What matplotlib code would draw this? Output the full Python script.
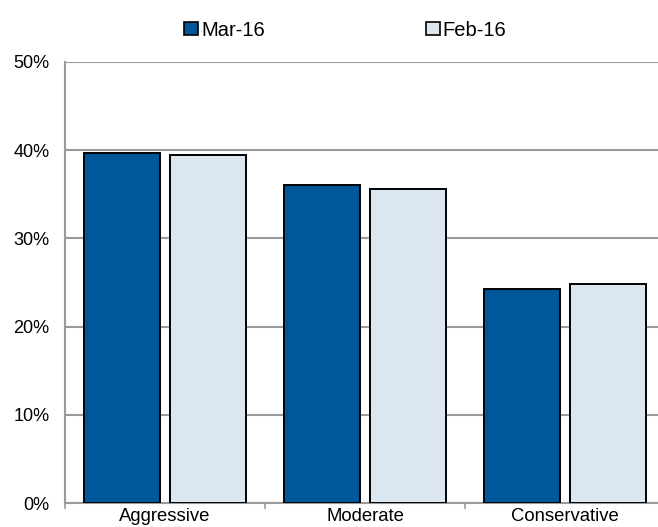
import matplotlib
matplotlib.use("Agg")
import matplotlib.pyplot as plt
from matplotlib.patches import Patch
import numpy as np

plt.rcParams['font.family'] = ['Liberation Sans', 'DejaVu Sans']

categories = ["Aggressive", "Moderate", "Conservative"]
mar16 = [0.397, 0.361, 0.243]
feb16 = [0.395, 0.356, 0.248]
series_labels = ["Mar-16", "Feb-16"]
ytick_vals = [0, 0.1, 0.2, 0.3, 0.4, 0.5]
ytick_labels = ["0%", "10%", "20%", "30%", "40%", "50%"]

dark_blue = "#00589A"
light_blue = "#DCE6F1"
grid_gray = "#9A9A9A"

fig = plt.figure(figsize=(6.58, 5.27), dpi=100)
ax = fig.add_axes([65 / 658, 24 / 527, 600 / 658, 441 / 527])

x = np.arange(len(categories))
width = 0.38
ax.bar(x - 0.215, mar16, width, color=dark_blue, edgecolor="black", linewidth=1.4, zorder=3)
ax.bar(x + 0.215, feb16, width, color=light_blue, edgecolor="black", linewidth=1.4, zorder=3)

ax.set_xlim(-0.5, len(categories) - 0.5)
ax.set_ylim(0, 0.5)
ax.set_yticks(ytick_vals)
ax.set_yticklabels(ytick_labels, fontsize=13)
ax.tick_params(axis="y", length=0, pad=11)

ax.set_xticks(x)
ax.set_xticklabels(categories, fontsize=13.3)
ax.tick_params(axis="x", which="major", length=0, pad=3.5)
ax.set_xticks(np.arange(len(categories) + 1) - 0.5, minor=True)
ax.tick_params(axis="x", which="minor", length=4, width=1.2, color=grid_gray, direction="out")

ax.yaxis.grid(True, color=grid_gray, linewidth=1.5, zorder=0)
ax.set_axisbelow(True)
for side in ("top", "right"):
    ax.spines[side].set_visible(False)
for side in ("left", "bottom"):
    ax.spines[side].set_color(grid_gray)
    ax.spines[side].set_linewidth(1.5)

handles = [Patch(facecolor=dark_blue, edgecolor="black", linewidth=1.2),
           Patch(facecolor=light_blue, edgecolor="black", linewidth=1.2)]
fig.legend(handles, series_labels, loc="center", bbox_to_anchor=(0.525, 0.943),
           ncol=2, frameon=False, fontsize=14.5, handlelength=0.68, handleheight=0.68,
           handletextpad=0.15, columnspacing=8.0)

fig.savefig("out.png", dpi=100)
